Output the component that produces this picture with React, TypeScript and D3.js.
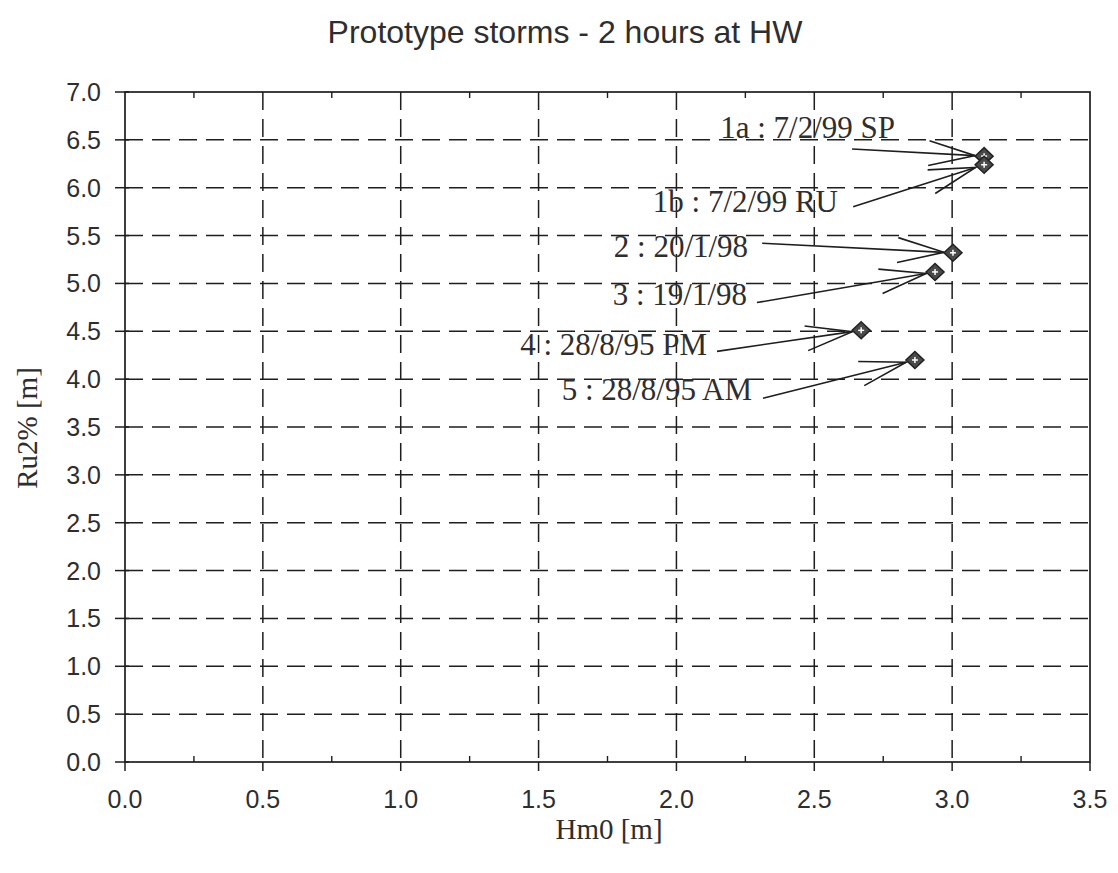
import React from "react";
import * as d3 from "d3";

// ---- data ----
const pointIds = ["1a", "1b", "2", "3", "4", "5"];
const hm0 = [3.116, 3.116, 3.003, 2.938, 2.67, 2.865];
const ru2 = [6.33, 6.24, 5.32, 5.12, 4.51, 4.2];
const labels = [
  "1a : 7/2/99 SP",
  "1b : 7/2/99 RU",
  "2 : 20/1/98",
  "3 : 19/1/98",
  "4 : 28/8/95 PM",
  "5 : 28/8/95 AM",
];
// label anchor (text end, baseline) in data units
const labelX = [2.793, 2.586, 2.26, 2.256, 2.111, 2.274];
const labelY = [6.52, 5.75, 5.28, 4.77, 4.25, 3.78];
// arrow tail in data units
const tailX = [2.637, 2.641, 2.311, 2.292, 2.147, 2.314];
const tailY = [6.405, 5.8, 5.42, 4.8, 4.29, 3.8];

const xTicks = [0, 0.5, 1.0, 1.5, 2.0, 2.5, 3.0, 3.5];
const yTicks = [0, 0.5, 1, 1.5, 2, 2.5, 3, 3.5, 4, 4.5, 5, 5.5, 6, 6.5, 7];
const xMinor = [0.25, 0.75, 1.25, 1.75, 2.25, 2.75, 3.25];

const title = "Prototype storms - 2 hours at HW";
const xLabel = "Hm0 [m]";
const yLabel = "Ru2% [m]";

const W = 1118;
const H = 873;

export default function App() {
  const x = d3.scaleLinear().domain([0, 3.5]).range([125, 1090]);
  const y = d3.scaleLinear().domain([0, 7]).range([762, 92]);
  const ink = "#1e1e1e";
  const textCol = "#2e2e2e";
  const sans = "'Liberation Sans', Arial, sans-serif";
  const serif = "'Liberation Serif', 'Times New Roman', serif";

  const arrows = pointIds.map((id, i) => {
    const px = x(hm0[i]);
    const py = y(ru2[i]);
    const tx = x(tailX[i]);
    const ty = y(tailY[i]);
    const ang = Math.atan2(ty - py, tx - px);
    const off = 9;
    const tipX = px + off * Math.cos(ang);
    const tipY = py + off * Math.sin(ang);
    const L = 48;
    const a = (15 * Math.PI) / 180;
    const a1x = tipX + L * Math.cos(ang + a);
    const a1y = tipY + L * Math.sin(ang + a);
    const a2x = tipX + L * Math.cos(ang - a);
    const a2y = tipY + L * Math.sin(ang - a);
    const line = d3.line()([
      [tx, ty],
      [tipX, tipY],
    ]);
    const head = d3.line()([
      [a1x, a1y],
      [tipX, tipY],
      [a2x, a2y],
    ]);
    return { id, line, head };
  });

  const diamond = (cx: number, cy: number) =>
    d3.line()([
      [cx, cy - 8.5],
      [cx + 9, cy],
      [cx, cy + 8.5],
      [cx - 9, cy],
      [cx, cy - 8.5],
    ]) + "Z";

  return (
    <svg
      width={W}
      height={H}
      style={{ position: "absolute", left: 0, top: 0, background: "#fff" }}
    >
      <rect x={0} y={0} width={W} height={H} fill="#fff" />
      {/* title */}
      <text
        x={565}
        y={43}
        textAnchor="middle"
        fontFamily={sans}
        fontSize={32}
        fill={textCol}
      >
        {title}
      </text>

      {/* grid */}
      {yTicks
        .filter((t) => t > 0 && t < 7)
        .map((t) => (
          <line
            key={"gy" + t}
            x1={x(0)}
            x2={x(3.5)}
            y1={y(t)}
            y2={y(t)}
            stroke={ink}
            strokeWidth={1.5}
            strokeDasharray="18,9"
          />
        ))}
      {xTicks
        .filter((t) => t > 0 && t < 3.5)
        .map((t) => (
          <line
            key={"gx" + t}
            x1={x(t)}
            x2={x(t)}
            y1={y(7)}
            y2={y(0)}
            stroke={ink}
            strokeWidth={1.5}
            strokeDasharray="18,9"
          />
        ))}

      {/* frame */}
      <rect
        x={x(0)}
        y={y(7)}
        width={x(3.5) - x(0)}
        height={y(0) - y(7)}
        fill="none"
        stroke={ink}
        strokeWidth={1.7}
      />

      {/* y ticks */}
      {yTicks.map((t) => (
        <g key={"yt" + t}>
          <line
            x1={x(0) - 10}
            x2={x(0) + 4}
            y1={y(t)}
            y2={y(t)}
            stroke={ink}
            strokeWidth={1.5}
          />
          <text
            x={101}
            y={y(t)}
            dy="0.36em"
            textAnchor="end"
            fontFamily={sans}
            fontSize={25}
            fill={textCol}
          >
            {d3.format(".1f")(t)}
          </text>
        </g>
      ))}

      {/* x ticks */}
      {xTicks.map((t) => (
        <g key={"xt" + t}>
          <line
            x1={x(t)}
            x2={x(t)}
            y1={y(0)}
            y2={y(0) + 9}
            stroke={ink}
            strokeWidth={1.5}
          />
          <text
            x={x(t)}
            y={808}
            textAnchor="middle"
            fontFamily={sans}
            fontSize={25}
            fill={textCol}
          >
            {d3.format(".1f")(t)}
          </text>
        </g>
      ))}
      {xMinor.map((t) => (
        <g key={"xm" + t}>
          <line
            x1={x(t)}
            x2={x(t)}
            y1={y(0)}
            y2={y(0) - 6}
            stroke={ink}
            strokeWidth={1.4}
          />
          <line
            x1={x(t)}
            x2={x(t)}
            y1={y(7)}
            y2={y(7) + 6}
            stroke={ink}
            strokeWidth={1.4}
          />
        </g>
      ))}

      {/* axis labels */}
      <text
        x={609}
        y={839}
        textAnchor="middle"
        fontFamily={serif}
        fontSize={29}
        fill={textCol}
      >
        {xLabel}
      </text>
      <text
        transform={`translate(27,428) rotate(-90)`}
        textAnchor="middle"
        dy="0.35em"
        fontFamily={serif}
        fontSize={29}
        fill={textCol}
      >
        {yLabel}
      </text>

      {/* annotations */}
      {arrows.map((a) => (
        <g key={"ar" + a.id}>
          <path d={a.line || ""} stroke={ink} strokeWidth={1.6} fill="none" />
          <path d={a.head || ""} stroke={ink} strokeWidth={1.6} fill="none" />
        </g>
      ))}
      {labels.map((l, i) => (
        <text
          key={"lb" + i}
          x={x(labelX[i])}
          y={y(labelY[i])}
          textAnchor="end"
          fontFamily={serif}
          fontSize={31}
          fill={textCol}
        >
          {l}
        </text>
      ))}

      {/* points */}
      {pointIds.map((id, i) => {
        const cx = x(hm0[i]);
        const cy = y(ru2[i]);
        return (
          <g key={"pt" + id}>
            <path d={diamond(cx, cy)} fill="#4a4a4a" stroke="#222" strokeWidth={1.5} />
            <line x1={cx - 3} x2={cx + 3} y1={cy} y2={cy} stroke="#fff" strokeWidth={1.5} />
            <line x1={cx} x2={cx} y1={cy - 3} y2={cy + 3} stroke="#fff" strokeWidth={1.5} />
          </g>
        );
      })}
    </svg>
  );
}
